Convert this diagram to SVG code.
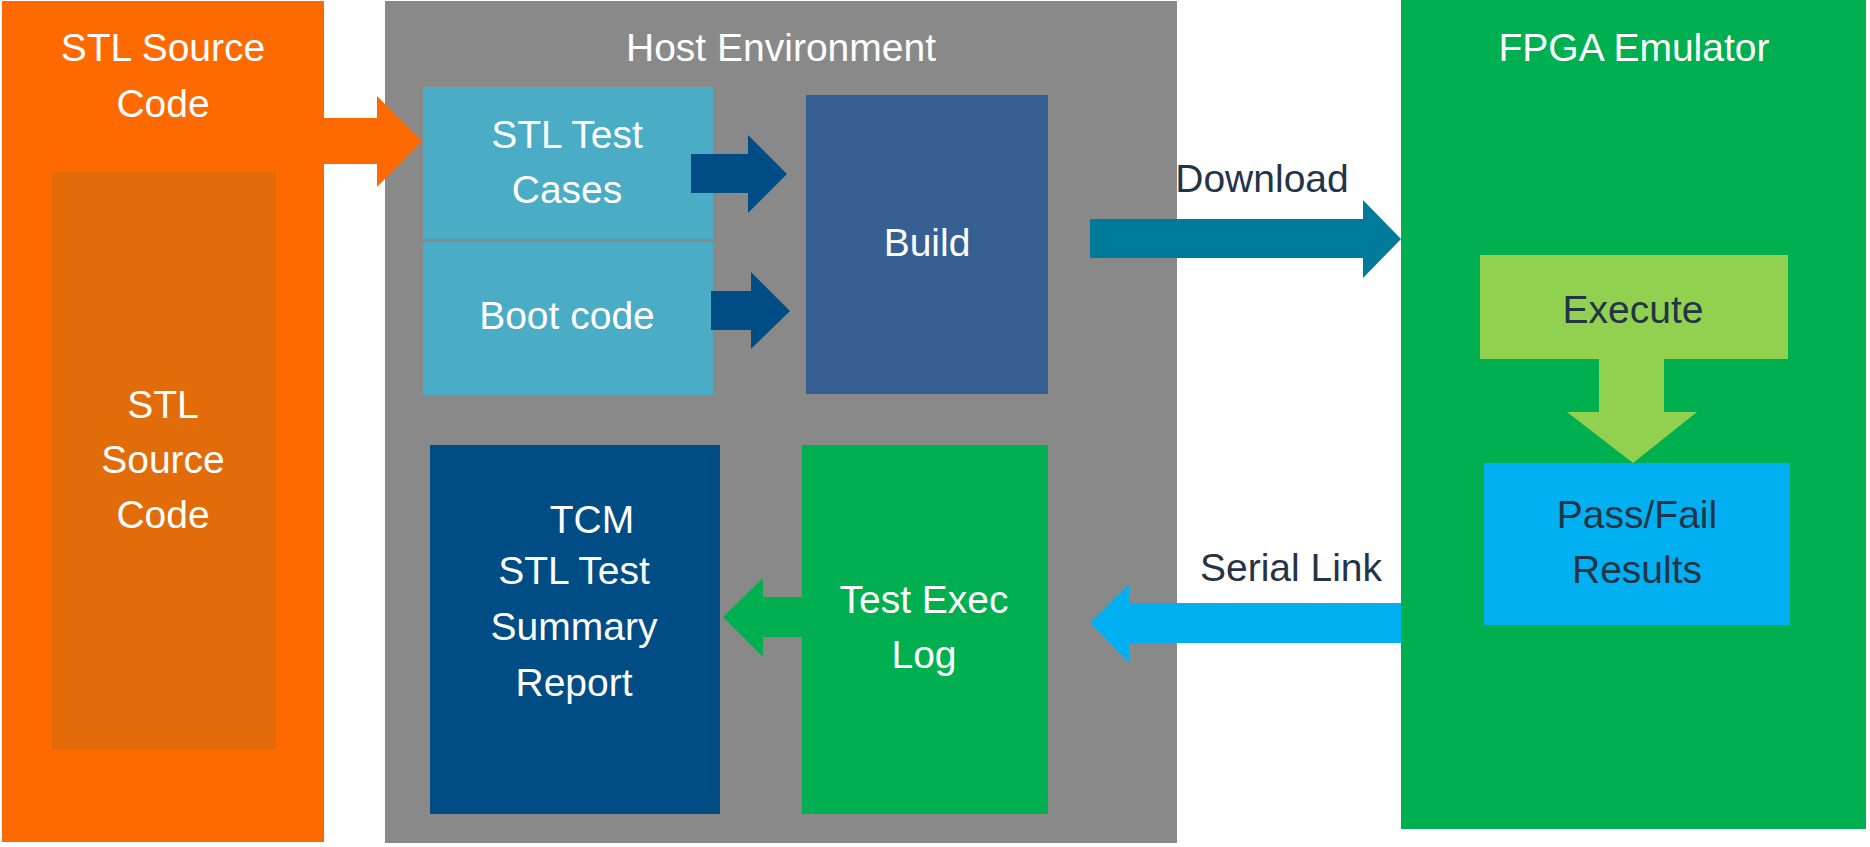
<svg xmlns="http://www.w3.org/2000/svg" width="1870" height="847" viewBox="0 0 1870 847">
<style>
text{font-family:"Liberation Sans",Arial,sans-serif;font-size:39px;text-anchor:middle}
.w{fill:#FFFFFF}
.d{fill:#243447}
</style>
<rect x="0" y="0" width="1870" height="847" fill="#FFFFFF"/>
<g id="stl-source">
<rect x="2" y="1" width="322" height="841" fill="#FF6A00"/>
<text class="w" x="163" y="61">STL Source</text>
<text class="w" x="163" y="117">Code</text>
</g>
<g id="stl-source-inner">
<rect x="52" y="172" width="224" height="578" fill="#E36C0A"/>
<text class="w" x="163" y="418">STL</text>
<text class="w" x="163" y="473">Source</text>
<text class="w" x="163" y="528">Code</text>
</g>
<g id="host-environment">
<rect x="385" y="1" width="792" height="842" fill="#898989"/>
<text class="w" x="781" y="61">Host Environment</text>
</g>
<g id="fpga-emulator">
<rect x="1401" y="0" width="465" height="829" fill="#00B050"/>
<text class="w" x="1634" y="61">FPGA Emulator</text>
</g>
<g id="stl-test-cases">
<rect x="423" y="87" width="290" height="152" fill="#4BACC6"/>
<text class="w" x="567" y="148">STL Test</text>
<text class="w" x="567" y="203">Cases</text>
</g>
<g id="boot-code">
<rect x="423" y="242" width="290" height="153" fill="#4BACC6"/>
<text class="w" x="567" y="329">Boot code</text>
</g>
<g id="build">
<rect x="806" y="95" width="242" height="299" fill="#366092"/>
<text class="w" x="927" y="256">Build</text>
</g>
<g id="tcm-report">
<rect x="430" y="445" width="290" height="369" fill="#004C84"/>
<text class="w" x="592" y="533">TCM</text>
<text class="w" x="574" y="584">STL Test</text>
<text class="w" x="574" y="640">Summary</text>
<text class="w" x="574" y="696">Report</text>
</g>
<g id="test-exec-log">
<rect x="802" y="445" width="246" height="369" fill="#00B050"/>
<text class="w" x="924" y="613">Test Exec</text>
<text class="w" x="924" y="668">Log</text>
</g>
<g id="execute">
<rect x="1480" y="255" width="308" height="104" fill="#92D050"/>
<text class="d" x="1633" y="323">Execute</text>
</g>
<g id="pass-fail">
<rect x="1484" y="463" width="306" height="162" fill="#00B0F0"/>
<text class="d" x="1637" y="528">Pass/Fail</text>
<text class="d" x="1637" y="583">Results</text>
</g>
<g id="connectors">
<polygon fill="#FF6A00" points="324,118 377,118 377,96 422,141 377,187 377,164 324,164"/>
<polygon fill="#004C84" points="691,154 748,154 748,135 787,174 748,213 748,193 691,193"/>
<polygon fill="#004C84" points="711,291 751,291 751,272 790,311 751,349 751,330 711,330"/>
<polygon fill="#007A99" points="1090,219 1363,219 1363,200 1401,239 1363,278 1363,258 1090,258"/>
<polygon fill="#92D050" points="1599,359 1664,359 1664,412 1697,412 1633,463 1567,412 1599,412"/>
<polygon fill="#00B0F0" points="1401,603 1129,603 1129,584 1090,623 1129,663 1129,643 1401,643"/>
<polygon fill="#00B050" points="802,597 763,597 763,578 723,617 763,657 763,637 802,637"/>
<text class="d" x="1262" y="192">Download</text>
<text class="d" x="1291" y="581">Serial Link</text>
</g>
</svg>
